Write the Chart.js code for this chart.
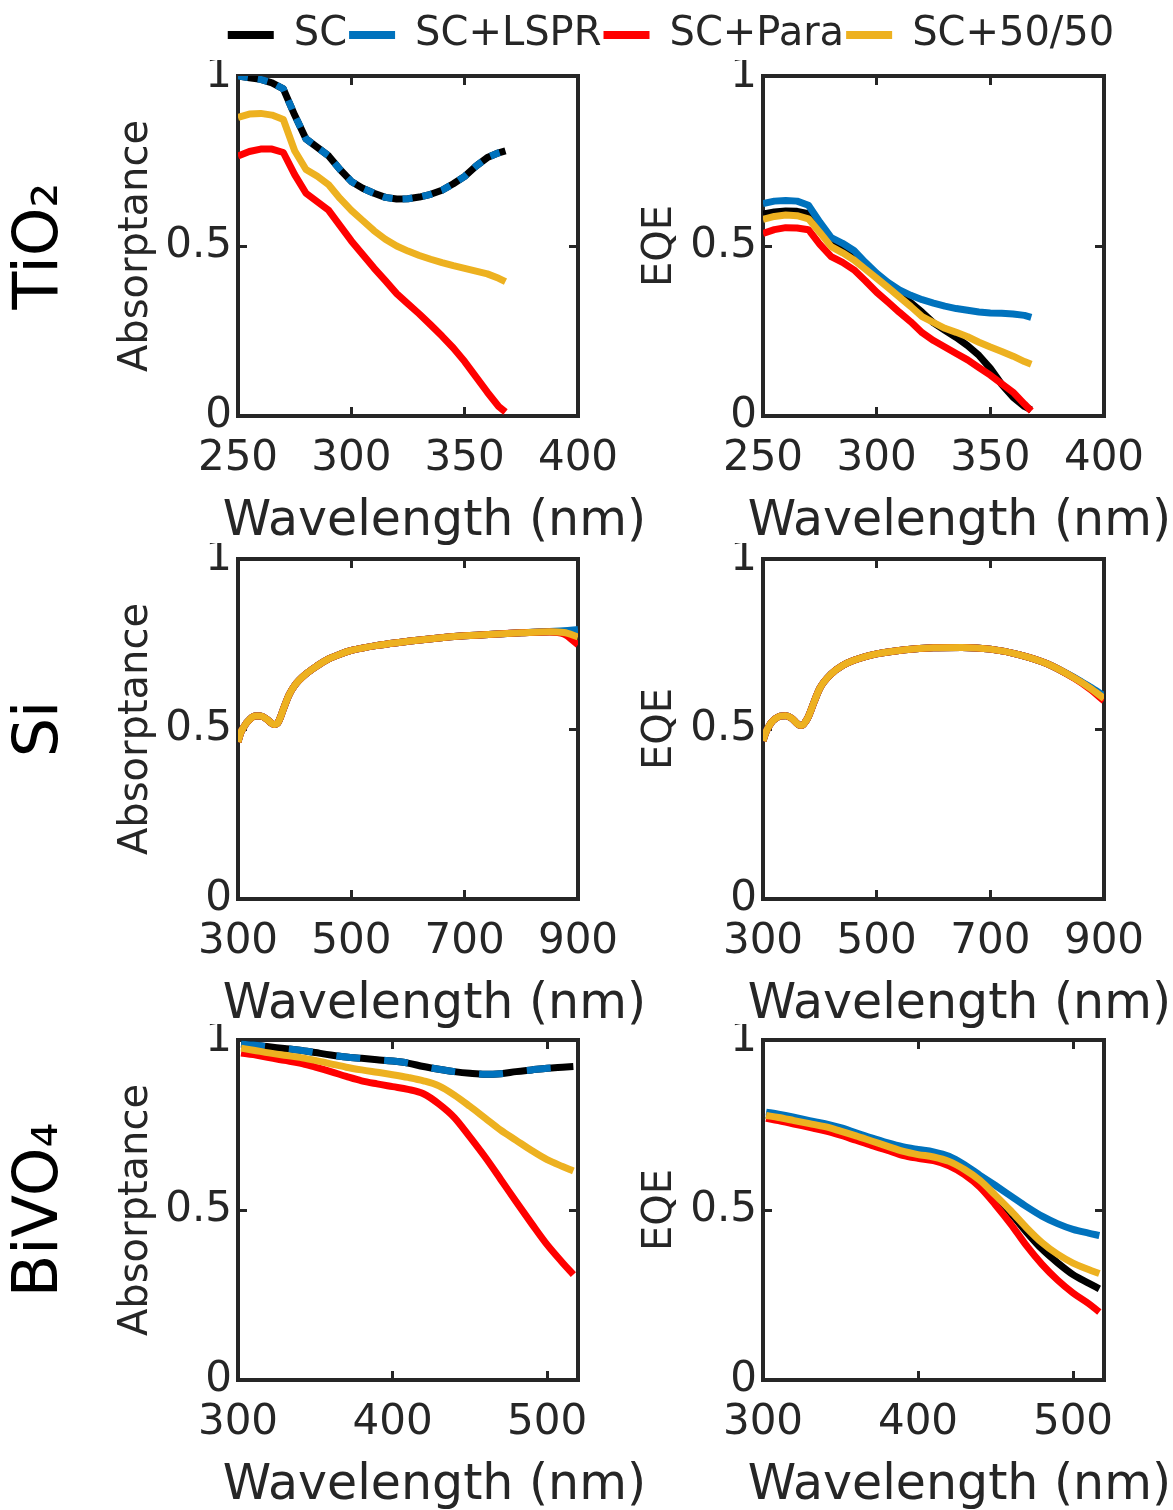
<!DOCTYPE html>
<html>
<head>
<meta charset="utf-8">
<title>Absorptance and EQE</title>
<script src="https://cdn.jsdelivr.net/npm/chart.js@4.4.1/dist/chart.umd.min.js"></script>
<style>
  html, body { margin: 0; padding: 0; background: #fff; overflow: hidden; }
  #fig { position: relative; width: 1173px; height: 1510px; }
  #fig canvas { position: absolute; }
</style>
</head>
<body>
<div id="fig">
  <canvas id="tio2-abs" width="646"  height="487" style="left:0;top:60px"></canvas>
  <canvas id="tio2-eqe" width="571"  height="487" style="left:600px;top:60px"></canvas>
  <canvas id="si-abs"   width="646"  height="487" style="left:0;top:543px"></canvas>
  <canvas id="si-eqe"   width="571"  height="487" style="left:600px;top:543px"></canvas>
  <canvas id="biv-abs"  width="646"  height="487" style="left:0;top:1024px"></canvas>
  <canvas id="biv-eqe"  width="571"  height="487" style="left:600px;top:1024px"></canvas>
  <canvas id="legend"   width="1000" height="160" style="left:171px;top:0"></canvas>
</div>
<script>
'use strict';

// ── series names (legend order) ──
const seriesNames = ['SC', 'SC+LSPR', 'SC+Para', 'SC+50/50'];

// ── TiO2 (250–368 nm) ──
const tio2Wl      = [250, 255, 260, 265, 270, 275, 280, 285, 290, 295, 300, 305, 310, 315, 320, 325, 330, 335, 340, 345, 350, 355, 360, 365, 368];
const tio2AbsSC   = [1.000, 0.995, 0.990, 0.980, 0.962, 0.885, 0.815, 0.790, 0.765, 0.725, 0.690, 0.670, 0.655, 0.643, 0.638, 0.639, 0.644, 0.652, 0.664, 0.683, 0.705, 0.735, 0.760, 0.774, 0.780];
const tio2AbsLSPR = [1.000, 0.995, 0.990, 0.980, 0.962, 0.885, 0.815, 0.790, 0.765, 0.725, 0.690, 0.670, 0.655, 0.643, 0.638, 0.639, 0.644, 0.652, 0.664, 0.683, 0.705, 0.735, 0.760, 0.774, 0.780];
const tio2AbsPara = [0.765, 0.778, 0.785, 0.785, 0.775, 0.710, 0.655, 0.630, 0.605, 0.560, 0.515, 0.475, 0.435, 0.398, 0.360, 0.330, 0.300, 0.268, 0.235, 0.200, 0.160, 0.115, 0.070, 0.028, 0.012];
const tio2AbsMix  = [0.878, 0.888, 0.890, 0.885, 0.872, 0.780, 0.725, 0.705, 0.680, 0.640, 0.605, 0.575, 0.545, 0.520, 0.500, 0.485, 0.472, 0.461, 0.451, 0.442, 0.434, 0.426, 0.418, 0.405, 0.395];
const tio2EqeSC   = [0.594, 0.600, 0.603, 0.602, 0.595, 0.550, 0.508, 0.490, 0.468, 0.440, 0.410, 0.383, 0.355, 0.333, 0.305, 0.274, 0.252, 0.231, 0.207, 0.178, 0.140, 0.093, 0.055, 0.028, 0.018];
const tio2EqeLSPR = [0.625, 0.632, 0.634, 0.632, 0.620, 0.570, 0.525, 0.508, 0.487, 0.452, 0.420, 0.393, 0.371, 0.355, 0.342, 0.332, 0.323, 0.316, 0.311, 0.306, 0.303, 0.302, 0.300, 0.296, 0.290];
const tio2EqePara = [0.537, 0.548, 0.554, 0.553, 0.548, 0.505, 0.469, 0.452, 0.430, 0.398, 0.364, 0.335, 0.305, 0.277, 0.245, 0.222, 0.203, 0.184, 0.165, 0.142, 0.120, 0.095, 0.070, 0.035, 0.015];
const tio2EqeMix  = [0.578, 0.587, 0.591, 0.589, 0.580, 0.540, 0.498, 0.480, 0.459, 0.432, 0.405, 0.378, 0.350, 0.322, 0.292, 0.275, 0.258, 0.246, 0.233, 0.217, 0.203, 0.190, 0.176, 0.160, 0.152];

// ── Si (300–900 nm) ──
const siWl      = [300, 305, 310, 315, 320, 330, 340, 350, 360, 365, 370, 375, 380, 390, 400, 420, 440, 460, 480, 500, 550, 600, 650, 700, 750, 800, 850, 875, 900];
const siAbsSC   = [0.462, 0.490, 0.505, 0.518, 0.527, 0.538, 0.538, 0.530, 0.516, 0.513, 0.517, 0.535, 0.558, 0.600, 0.628, 0.662, 0.686, 0.706, 0.720, 0.731, 0.747, 0.758, 0.767, 0.774, 0.779, 0.783, 0.786, 0.785, 0.776];
const siAbsLSPR = [0.462, 0.490, 0.505, 0.518, 0.527, 0.538, 0.538, 0.530, 0.516, 0.513, 0.517, 0.535, 0.558, 0.600, 0.628, 0.662, 0.686, 0.706, 0.720, 0.731, 0.747, 0.758, 0.767, 0.774, 0.779, 0.783, 0.787, 0.789, 0.793];
const siAbsPara = [0.462, 0.490, 0.505, 0.518, 0.527, 0.538, 0.538, 0.530, 0.516, 0.513, 0.517, 0.535, 0.558, 0.600, 0.628, 0.662, 0.686, 0.706, 0.720, 0.731, 0.747, 0.758, 0.767, 0.774, 0.779, 0.783, 0.785, 0.779, 0.748];
const siAbsMix  = [0.462, 0.490, 0.505, 0.518, 0.527, 0.538, 0.538, 0.530, 0.516, 0.513, 0.517, 0.535, 0.558, 0.600, 0.628, 0.662, 0.686, 0.706, 0.720, 0.731, 0.747, 0.758, 0.767, 0.774, 0.779, 0.783, 0.786, 0.784, 0.771];
const siEqeSC   = [0.465, 0.490, 0.507, 0.520, 0.528, 0.538, 0.539, 0.532, 0.516, 0.511, 0.512, 0.522, 0.537, 0.580, 0.620, 0.662, 0.687, 0.702, 0.713, 0.721, 0.733, 0.739, 0.740, 0.735, 0.719, 0.692, 0.648, 0.622, 0.592];
const siEqeLSPR = [0.465, 0.490, 0.507, 0.520, 0.528, 0.538, 0.539, 0.532, 0.516, 0.511, 0.512, 0.522, 0.537, 0.580, 0.620, 0.662, 0.687, 0.702, 0.713, 0.721, 0.733, 0.739, 0.740, 0.735, 0.719, 0.692, 0.649, 0.624, 0.598];
const siEqePara = [0.465, 0.490, 0.507, 0.520, 0.528, 0.538, 0.539, 0.532, 0.516, 0.511, 0.512, 0.522, 0.537, 0.580, 0.620, 0.662, 0.687, 0.702, 0.713, 0.721, 0.733, 0.739, 0.740, 0.735, 0.719, 0.692, 0.647, 0.618, 0.583];
const siEqeMix  = [0.465, 0.490, 0.507, 0.520, 0.528, 0.538, 0.539, 0.532, 0.516, 0.511, 0.512, 0.522, 0.537, 0.580, 0.620, 0.662, 0.687, 0.702, 0.713, 0.721, 0.733, 0.739, 0.740, 0.735, 0.719, 0.692, 0.648, 0.621, 0.590];

// ── BiVO4 (302–517 nm) ──
const bivWl      = [302, 310, 320, 330, 340, 350, 360, 370, 380, 390, 400, 410, 420, 430, 440, 450, 460, 470, 480, 490, 500, 510, 517];
const bivAbsSC   = [0.988, 0.985, 0.980, 0.975, 0.970, 0.963, 0.956, 0.950, 0.946, 0.942, 0.938, 0.932, 0.922, 0.914, 0.907, 0.902, 0.899, 0.901, 0.907, 0.912, 0.917, 0.920, 0.922];
const bivAbsLSPR = [0.988, 0.985, 0.980, 0.975, 0.970, 0.963, 0.956, 0.950, 0.946, 0.942, 0.938, 0.932, 0.922, 0.914, 0.907, 0.902, 0.899, 0.901, 0.907, 0.912, 0.917, 0.920, 0.922];
const bivAbsPara = [0.962, 0.957, 0.948, 0.940, 0.932, 0.920, 0.907, 0.893, 0.880, 0.871, 0.863, 0.855, 0.842, 0.812, 0.772, 0.715, 0.655, 0.590, 0.524, 0.460, 0.398, 0.345, 0.310];
const bivAbsMix  = [0.976, 0.970, 0.962, 0.955, 0.949, 0.940, 0.930, 0.920, 0.912, 0.905, 0.898, 0.890, 0.880, 0.865, 0.838, 0.805, 0.770, 0.735, 0.705, 0.675, 0.648, 0.628, 0.615];
const bivEqeSC   = [0.779, 0.773, 0.764, 0.755, 0.746, 0.733, 0.719, 0.704, 0.689, 0.674, 0.664, 0.657, 0.644, 0.620, 0.585, 0.540, 0.490, 0.435, 0.385, 0.345, 0.310, 0.285, 0.268];
const bivEqeLSPR = [0.788, 0.782, 0.773, 0.763, 0.754, 0.742, 0.727, 0.712, 0.698, 0.686, 0.678, 0.671, 0.658, 0.633, 0.602, 0.572, 0.541, 0.510, 0.482, 0.460, 0.443, 0.432, 0.425];
const bivEqePara = [0.770, 0.763, 0.753, 0.743, 0.733, 0.720, 0.705, 0.690, 0.676, 0.661, 0.652, 0.645, 0.630, 0.604, 0.567, 0.515, 0.458, 0.395, 0.340, 0.294, 0.256, 0.225, 0.200];
const bivEqeMix  = [0.778, 0.772, 0.763, 0.754, 0.745, 0.732, 0.718, 0.703, 0.688, 0.673, 0.663, 0.656, 0.643, 0.619, 0.587, 0.543, 0.497, 0.448, 0.404, 0.370, 0.344, 0.325, 0.313];

// ── styling ──
const FONT   = "'DejaVu Sans', Verdana, sans-serif";
const AXIS   = '#262626';
const COLORS = ['#000000', '#0072BD', '#FF0000', '#EDB120'];
// later series sit on top: lowest order is drawn last
const ORDERS = [4, 3, 2, 1];

function pts(xs, ys) { return xs.map((x, i) => ({ x, y: ys[i] })); }

// tick labels may hang past the plot edges; don't let them shrink the plot
function noLabelPadding(s) { s.paddingTop = 0; s.paddingBottom = 0; s.paddingLeft = 0; s.paddingRight = 0; }

// One panel = one chart. Layout numbers are in canvas pixels.
function panel(id, p) {
  const datasets = p.series.map((ys, i) => Object.assign({
    label: seriesNames[i],
    data: pts(p.wl, ys),
    borderColor: COLORS[i],
    backgroundColor: COLORS[i],
    borderWidth: 7,
    pointRadius: 0,
    borderJoinStyle: 'round',
    order: ORDERS[i],
    tension: 0,
    cubicInterpolationMode: p.smooth ? 'monotone' : 'default'
  }, (p.dashed && i === 1) ? { borderDash: p.dashed } : {}));

  const tickFont = { family: FONT, size: 42 };
  const grid = { drawOnChartArea: false, tickLength: -9, tickWidth: 3, color: AXIS };
  const border = { color: AXIS, width: 4 };

  return new Chart(document.getElementById(id), {
    type: 'line',
    data: { datasets },
    options: {
      responsive: false,
      animation: false,
      events: [],
      layout: { padding: 0, autoPadding: false },
      scales: {
        x: {
          type: 'linear', position: 'bottom', min: p.xMin, max: p.xMax,
          ticks: { stepSize: p.xStep, includeBounds: false, autoSkip: false, maxRotation: 0, padding: 27, color: AXIS, font: tickFont },
          grid, border,
          afterFit: s => { s.height = 60; noLabelPadding(s); }
        },
        xTop: {
          type: 'linear', position: 'top', min: p.xMin, max: p.xMax,
          ticks: { stepSize: p.xStep, includeBounds: false, display: false },
          grid, border,
          afterFit: s => { s.height = 16; noLabelPadding(s); }
        },
        y: {
          type: 'linear', position: 'left', min: 0, max: 1,
          ticks: { stepSize: 0.5, padding: 15, color: AXIS, font: tickFont, callback: v => String(v) },
          title: { display: true, text: p.yTitle, color: AXIS, font: { family: FONT, size: 40, lineHeight: 1 }, padding: { top: p.yTitlePad, bottom: 0 } },
          grid, border,
          afterFit: s => { s.width = p.yWidth; noLabelPadding(s); }
        },
        yRight: {
          type: 'linear', position: 'right', min: 0, max: 1,
          ticks: { stepSize: 0.5, display: false },
          grid, border,
          afterFit: s => { s.width = p.rightWidth; noLabelPadding(s); }
        }
      },
      plugins: {
        legend: { display: false },
        tooltip: { enabled: false },
        title: {
          display: !!p.rowLabel, text: p.rowLabel || '', position: 'left', fullSize: false,
          color: '#000', font: { family: FONT, size: 62, weight: 'normal', lineHeight: 1 },
          padding: { top: 10, bottom: 10 }
        },
        subtitle: {
          display: true, text: 'Wavelength (nm)', position: 'bottom', align: 'end', fullSize: true,
          color: AXIS, font: { family: FONT, size: 49, weight: 'normal', lineHeight: 1 },
          padding: { top: 22, bottom: 0 }
        }
      }
    }
  });
}

// left column: row label (82) + y axis (156) -> plot 238..578
const LEFT  = { yWidth: 156, rightWidth: 68, yTitlePad: 35 };
// right column: y axis (163) -> plot 763..1104
const RIGHT = { yWidth: 163, rightWidth: 67, yTitlePad: 41 };

panel('tio2-abs', Object.assign({}, LEFT, {
  rowLabel: 'TiO₂', yTitle: 'Absorptance', wl: tio2Wl, xMin: 250, xMax: 400, xStep: 50,
  series: [tio2AbsSC, tio2AbsLSPR, tio2AbsPara, tio2AbsMix], dashed: [10, 10]
}));
panel('tio2-eqe', Object.assign({}, RIGHT, {
  yTitle: 'EQE', wl: tio2Wl, xMin: 250, xMax: 400, xStep: 50,
  series: [tio2EqeSC, tio2EqeLSPR, tio2EqePara, tio2EqeMix]
}));
panel('si-abs', Object.assign({}, LEFT, {
  rowLabel: 'Si', yTitle: 'Absorptance', wl: siWl, xMin: 300, xMax: 900, xStep: 200, smooth: true,
  series: [siAbsSC, siAbsLSPR, siAbsPara, siAbsMix]
}));
panel('si-eqe', Object.assign({}, RIGHT, {
  yTitle: 'EQE', wl: siWl, xMin: 300, xMax: 900, xStep: 200, smooth: true,
  series: [siEqeSC, siEqeLSPR, siEqePara, siEqeMix]
}));
panel('biv-abs', Object.assign({}, LEFT, {
  rowLabel: 'BiVO₄', yTitle: 'Absorptance', wl: bivWl, xMin: 300, xMax: 520, xStep: 100, smooth: true,
  series: [bivAbsSC, bivAbsLSPR, bivAbsPara, bivAbsMix], dashed: [24, 24]
}));
panel('biv-eqe', Object.assign({}, RIGHT, {
  yTitle: 'EQE', wl: bivWl, xMin: 300, xMax: 520, xStep: 100, smooth: true,
  series: [bivEqeSC, bivEqeLSPR, bivEqePara, bivEqeMix]
}));

// shared legend across the top (tall canvas so the legend box isn't capped at half height)
new Chart(document.getElementById('legend'), {
  type: 'line',
  data: {
    datasets: seriesNames.map((name, i) => ({
      label: name, data: [], borderColor: COLORS[i], backgroundColor: COLORS[i], borderWidth: 0
    }))
  },
  options: {
    responsive: false,
    animation: false,
    events: [],
    layout: { padding: { top: 13 } },
    scales: { x: { display: false }, y: { display: false } },
    plugins: {
      tooltip: { enabled: false },
      legend: {
        display: true, position: 'top',
        labels: { boxWidth: 46, boxHeight: 8, padding: 2, color: AXIS, font: { family: FONT, size: 40 } }
      }
    }
  }
});
</script>
</body>
</html>
